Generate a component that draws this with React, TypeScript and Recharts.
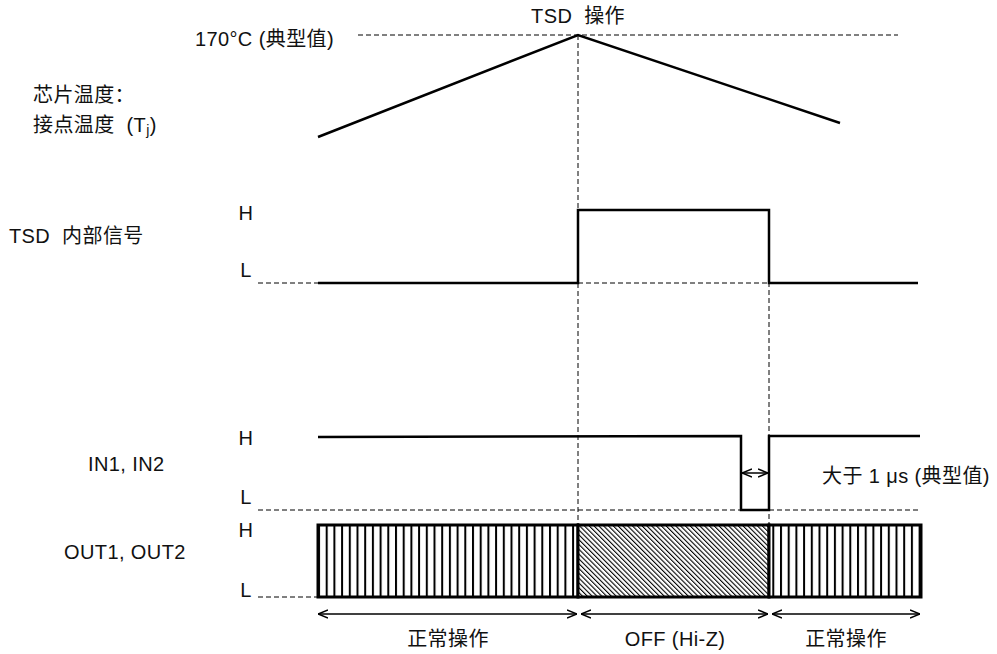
import React from 'react';
import { ComposedChart, Line, XAxis, YAxis, ReferenceLine, ReferenceArea, ReferenceDot } from 'recharts';

const W = 997;
const H = 654;
const FONT = '"Liberation Sans", Arial, "Noto Sans CJK SC", sans-serif';

// waveforms (x: time position, y: level on the page scale)
const tjTemp = [
  { x: 318, y: 137 },
  { x: 578, y: 35 },
  { x: 840, y: 123 },
];
const tsdSignal = [
  { x: 318, y: 283 },
  { x: 578, y: 283 },
  { x: 578, y: 210 },
  { x: 769, y: 210 },
  { x: 769, y: 283 },
  { x: 918, y: 283 },
];
const inSignal = [
  { x: 318, y: 437 },
  { x: 741, y: 436 },
  { x: 741, y: 510 },
  { x: 769, y: 510 },
  { x: 769, y: 436 },
  { x: 920, y: 436 },
];

// dashed guides
const guides = [
  [{ x: 358, y: 35 }, { x: 898, y: 35 }],
  [{ x: 578, y: 35 }, { x: 578, y: 525 }],
  [{ x: 769, y: 210 }, { x: 769, y: 525 }],
  [{ x: 258, y: 283 }, { x: 318, y: 283 }],
  [{ x: 578, y: 283 }, { x: 769, y: 283 }],
  [{ x: 258, y: 510 }, { x: 741, y: 510 }],
  [{ x: 769, y: 510 }, { x: 920, y: 510 }],
  [{ x: 258, y: 597 }, { x: 318, y: 597 }],
];

// output bar segments
const outSegments = [
  { x1: 318, x2: 578, fill: 'url(#vhatch)' },
  { x1: 578, x2: 769, fill: 'url(#dhatch)' },
  { x1: 769, x2: 921, fill: 'url(#vhatch)' },
];
const outTop = 525;
const outBottom = 597;

// double arrows
const spans = [
  [{ x: 318, y: 614 }, { x: 577, y: 614 }],
  [{ x: 581, y: 614 }, { x: 768, y: 614 }],
  [{ x: 772, y: 614 }, { x: 920, y: 614 }],
  [{ x: 742, y: 473 }, { x: 768, y: 473 }],
];

// text labels
const labels = [
  { x: 578, y: 16, text: 'TSD  操作', anchor: 'middle' },
  { x: 334, y: 39, text: '170°C (典型值)', anchor: 'end' },
  { x: 33, y: 95, text: '芯片温度：', anchor: 'start' },
  { x: 9, y: 236, text: 'TSD  内部信号', anchor: 'start' },
  { x: 246, y: 213, text: 'H', anchor: 'middle' },
  { x: 246, y: 270, text: 'L', anchor: 'middle' },
  { x: 246, y: 438, text: 'H', anchor: 'middle' },
  { x: 246, y: 497, text: 'L', anchor: 'middle' },
  { x: 88, y: 464, text: 'IN1, IN2', anchor: 'start' },
  { x: 822, y: 476, text: '大于 1 μs (典型值)', anchor: 'start' },
  { x: 246, y: 530, text: 'H', anchor: 'middle' },
  { x: 246, y: 590, text: 'L', anchor: 'middle' },
  { x: 64, y: 552, text: 'OUT1, OUT2', anchor: 'start' },
  { x: 448, y: 639, text: '正常操作', anchor: 'middle' },
  { x: 675, y: 639, text: 'OFF (Hi-Z)', anchor: 'middle' },
  { x: 846, y: 639, text: '正常操作', anchor: 'middle' },
];
const tjLabel = { x: 33, y: 125 };

const textStyle = { fontFamily: FONT, fontSize: 20, letterSpacing: 0.4, fill: '#111', whiteSpace: 'pre' as const };

export default function App() {
  return (
    <div style={{ position: 'absolute', left: 0, top: 0, background: '#fff' }}>
      <ComposedChart width={W} height={H} margin={{ top: 0, right: 0, bottom: 0, left: 0 }}>
        <defs>
          <pattern id="vhatch" x={318} y={0} width={7.7} height={10} patternUnits="userSpaceOnUse">
            <rect x={0} y={0} width={7.7} height={10} fill="#fff" />
            <rect x={0} y={0} width={2} height={10} fill="#000" />
          </pattern>
          <pattern id="dhatch" width={3.4} height={6} patternUnits="userSpaceOnUse" patternTransform="rotate(-45)">
            <rect x={0} y={0} width={3.4} height={6} fill="#fff" />
            <rect x={0} y={0} width={1.1} height={6} fill="#000" />
          </pattern>
          <marker id="arrowHead" viewBox="0 0 10 10" refX={10} refY={5} markerWidth={10} markerHeight={10}
            markerUnits="userSpaceOnUse" orient="auto-start-reverse">
            <path d="M0,1 L10,5 L0,9" fill="none" stroke="#000" strokeWidth={1.5} />
          </marker>
        </defs>
        <XAxis type="number" dataKey="x" domain={[0, W]} allowDataOverflow hide />
        <YAxis type="number" dataKey="y" domain={[0, H]} reversed allowDataOverflow hide />

        {guides.map((seg, i) => (
          <ReferenceLine key={'g' + i} segment={seg} stroke="#000" strokeWidth={1} strokeDasharray="5 3" />
        ))}

        {outSegments.map((s, i) => (
          <ReferenceArea key={'o' + i} x1={s.x1} x2={s.x2} y1={outTop} y2={outBottom}
            fill={s.fill} fillOpacity={1} stroke="#000" strokeWidth={3} />
        ))}

        <Line data={tjTemp} dataKey="y" type="linear" stroke="#000" strokeWidth={2.5} dot={false} activeDot={false} isAnimationActive={false} />
        <Line data={tsdSignal} dataKey="y" type="linear" stroke="#000" strokeWidth={2.5} dot={false} activeDot={false} isAnimationActive={false} />
        <Line data={inSignal} dataKey="y" type="linear" stroke="#000" strokeWidth={2.5} dot={false} activeDot={false} isAnimationActive={false} />

        {spans.map((seg, i) => (
          <ReferenceLine key={'a' + i} segment={seg} stroke="#000" strokeWidth={1.5}
            markerStart="url(#arrowHead)" markerEnd="url(#arrowHead)" />
        ))}

        {labels.map((l, i) => (
          <ReferenceDot key={'t' + i} x={l.x} y={l.y} r={0}
            shape={(p: any) => (
              <text x={p.cx} y={p.cy} textAnchor={l.anchor} dominantBaseline="central" style={textStyle}>
                {l.text}
              </text>
            )} />
        ))}
        <ReferenceDot x={tjLabel.x} y={tjLabel.y} r={0}
          shape={(p: any) => (
            <text x={p.cx} y={p.cy} textAnchor="start" dominantBaseline="central" style={textStyle}>
              {'接点温度  (T'}<tspan fontSize={14} dy={5}>j</tspan><tspan dy={-5}>)</tspan>
            </text>
          )} />
      </ComposedChart>
    </div>
  );
}
